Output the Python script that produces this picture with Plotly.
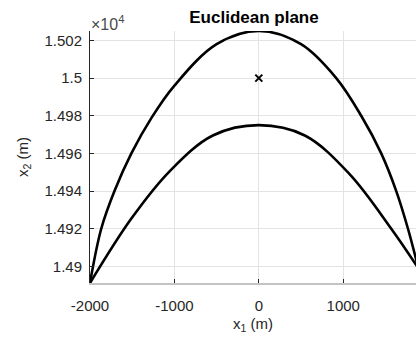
import plotly.graph_objects as go

# Outer boundary of the region (x1, x2 in metres)
outer_x1 = [-2000, -1867, -1710, -1510, -1270, -1000, -500, 0,
            500, 917, 1213, 1450, 1628, 1767, 1890]
outer_x2 = [14891.2, 14920, 14940, 14960, 14979, 14996, 15018, 15025,
            15018, 15000, 14980, 14960, 14940, 14920, 14899]

# Inner boundary of the region
inner_x1 = [-2000, -1512, -1057, -545, 0, 545, 1075, 1569, 1890]
inner_x2 = [14891.2, 14925.3, 14950.5, 14969.5, 14975, 14969.5, 14949, 14920, 14899]

# Reference point
centre_x1 = [0]
centre_x2 = [15000]

# Axis ticks
x_ticks = [-2000, -1000, 0, 1000]
x_tick_text = ["-2000", "-1000", "0", "1000"]
y_ticks = [14900, 14920, 14940, 14960, 14980, 15000, 15020]
y_tick_text = ["1.49", "1.492", "1.494", "1.496", "1.498", "1.5", "1.502"]

FONT = "Liberation Sans, Arial, sans-serif"
TXT = "#262626"

fig = go.Figure()
for xs, ys in [(outer_x1, outer_x2), (inner_x1, inner_x2)]:
    fig.add_trace(go.Scatter(
        x=xs, y=ys, mode="lines",
        line=dict(color="black", width=2.6, shape="spline", smoothing=1.0),
        showlegend=False, hoverinfo="skip"))

fig.add_trace(go.Scatter(
    x=centre_x1, y=centre_x2, mode="markers",
    marker=dict(symbol="x-thin", size=7, line=dict(color="black", width=2)),
    showlegend=False))

fig.update_layout(
    width=416, height=339,
    margin=dict(l=90, r=0, t=31, b=56),
    paper_bgcolor="white", plot_bgcolor="white",
    font=dict(family=FONT, size=15, color=TXT),
    title=dict(text="<b>Euclidean plane</b>", font=dict(size=17, color="black"),
               xref="container", x=254 / 416, xanchor="center",
               yref="container", y=1 - 17 / 339, yanchor="middle"),
)

fig.update_xaxes(
    range=[-2000, 1862], tickvals=x_ticks, ticktext=x_tick_text,
    showgrid=True, gridcolor="#e3e3e3", gridwidth=1, zeroline=False,
    showline=True, linecolor="#c4c4c4", linewidth=2,
    ticks="inside", ticklen=4, tickcolor=TXT, tickwidth=1,
    tickfont=dict(size=15, color=TXT), ticklabelstandoff=8,
    title=dict(text="x<sub>1</sub> (m)", font=dict(size=15, color=TXT), standoff=5),
)

fig.update_yaxes(
    range=[14891.2, 15025], tickvals=y_ticks, ticktext=y_tick_text,
    showgrid=True, gridcolor="#e3e3e3", gridwidth=1, zeroline=False,
    showline=True, linecolor=TXT, linewidth=1,
    ticks="inside", ticklen=4, tickcolor=TXT, tickwidth=1,
    tickfont=dict(size=15, color=TXT), ticklabelstandoff=4,
    title=dict(text="x<sub>2</sub> (m)", font=dict(size=15, color=TXT), standoff=12),
)

# Axis exponent label
fig.add_annotation(
    text="\u00d710<sup>4</sup>", xref="paper", yref="paper",
    x=0, y=1, xanchor="left", yanchor="bottom", showarrow=False,
    xshift=-1, yshift=-4, font=dict(size=16, color="#4a4a4a"))

fig.write_html("out.html")
